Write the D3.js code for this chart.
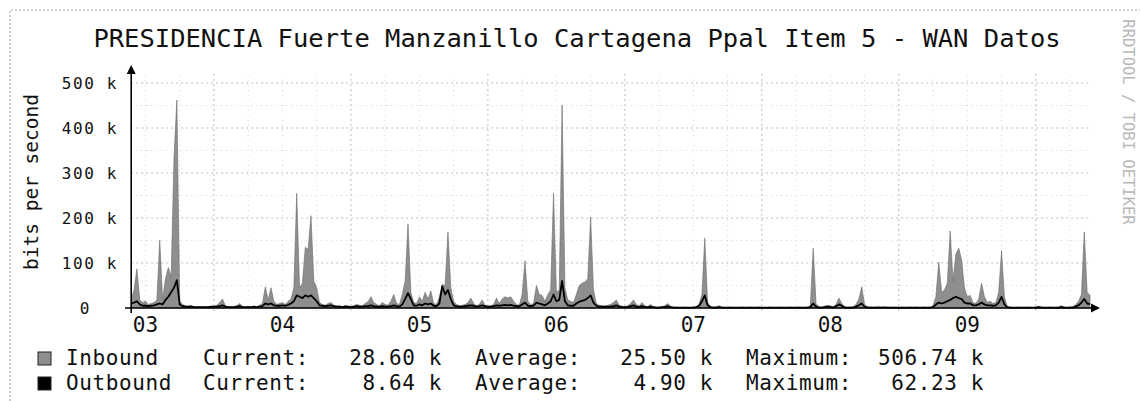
<!DOCTYPE html>
<html>
<head>
<meta charset="utf-8">
<script src="https://cdn.jsdelivr.net/npm/d3@7"></script>
<style>
  html, body { margin: 0; background: #fff; }
  svg { display: block; font-family: "DejaVu Sans Mono", monospace; }
</style>
</head>
<body>
<div id="chart"></div>
<script>
// RRDtool weekly traffic graph, one sample every 30 min starting day 03 09:30
const title = "PRESIDENCIA Fuerte Manzanillo Cartagena Ppal Item 5 - WAN Datos";
const yLabel = "bits per second";
const watermark = "RRDTOOL / TOBI OETIKER";
const dayLabels = ["03", "04", "05", "06", "07", "08", "09"];
const yTicks = [0, 100, 200, 300, 400, 500];   // k bits/s
const startHour = 9.5, stepHours = 0.5;         // hours since day 03 00:00

// inbound, k bits/s (24 samples = 12 h per row)
const inbound = [
  20, 40, 87, 18, 12, 15, 8, 10, 12, 18, 151, 20, 65, 90, 70, 335, 462, 15, 8, 5, 4, 6, 3, 2,
  3, 2, 3, 2, 3, 4, 6, 12, 20, 5, 3, 2, 3, 5, 10, 4, 2, 3, 2, 4, 3, 6, 10, 47,
  18, 45, 15, 8, 10, 12, 8, 15, 20, 45, 255, 45, 55, 135, 130, 205, 60, 45, 12, 8, 6, 10, 12, 6,
  4, 5, 3, 6, 4, 3, 5, 8, 6, 5, 10, 14, 25, 12, 8, 5, 12, 8, 6, 15, 30, 10, 8, 30,
  60, 187, 35, 12, 10, 25, 15, 35, 20, 38, 10, 8, 25, 52, 50, 169, 45, 15, 8, 5, 6, 8, 12, 22,
  10, 5, 8, 18, 6, 4, 5, 8, 22, 10, 20, 25, 22, 25, 15, 8, 6, 30, 105, 15, 8, 10, 50, 30,
  28, 15, 30, 40, 255, 35, 40, 451, 45, 18, 15, 12, 30, 50, 55, 58, 65, 202, 40, 10, 6, 5, 4, 6,
  8, 12, 18, 6, 4, 3, 5, 10, 18, 8, 5, 12, 5, 3, 8, 3, 2, 2, 3, 5, 10, 4, 2, 2,
  1, 1, 2, 1, 1, 2, 3, 8, 30, 155, 12, 3, 2, 3, 5, 2, 1, 1, 2, 1, 1, 1, 2, 1,
  1, 2, 1, 1, 2, 1, 1, 1, 2, 1, 1, 2, 1, 1, 1, 2, 1, 1, 2, 1, 1, 2, 5, 133,
  10, 3, 2, 4, 6, 5, 3, 8, 22, 10, 3, 2, 2, 3, 8, 20, 47, 8, 3, 2, 2, 2, 3, 2,
  3, 2, 1, 2, 1, 1, 2, 1, 1, 2, 1, 2, 1, 1, 2, 1, 2, 5, 25, 102, 35, 40, 55, 171,
  60, 120, 133, 107, 45, 25, 28, 12, 10, 20, 55, 25, 12, 15, 10, 12, 35, 127, 25, 3, 2, 1, 1, 2,
  1, 1, 2, 1, 1, 2, 4, 2, 1, 1, 2, 1, 1, 2, 5, 2, 1, 2, 3, 8, 15, 30, 169, 35,
  28.6
];
// outbound, k bits/s
const outbound = [
  10, 12, 15, 8, 5, 5, 4, 5, 6, 8, 10, 8, 18, 25, 35, 45, 62, 8, 4, 3, 3, 3, 2, 2,
  2, 2, 2, 2, 3, 3, 3, 4, 6, 3, 2, 2, 2, 3, 4, 2, 2, 2, 2, 3, 2, 3, 4, 10,
  8, 10, 6, 5, 5, 6, 5, 7, 10, 15, 28, 25, 22, 28, 25, 28, 22, 15, 6, 5, 4, 5, 6, 4,
  3, 3, 2, 3, 3, 2, 3, 4, 3, 3, 4, 4, 6, 4, 3, 3, 4, 3, 3, 4, 6, 4, 3, 8,
  20, 33, 20, 6, 5, 8, 6, 10, 8, 10, 5, 4, 10, 48, 30, 40, 20, 6, 4, 3, 3, 4, 5, 6,
  5, 3, 4, 6, 4, 3, 3, 4, 6, 5, 6, 7, 6, 7, 5, 4, 4, 8, 12, 5, 4, 5, 12, 10,
  8, 6, 10, 15, 30, 15, 18, 60, 15, 6, 5, 5, 10, 14, 16, 18, 22, 28, 12, 5, 3, 3, 3, 3,
  3, 4, 6, 3, 2, 2, 2, 4, 6, 3, 2, 4, 2, 2, 3, 2, 1, 1, 2, 2, 4, 2, 1, 1,
  1, 1, 1, 1, 1, 1, 2, 5, 15, 28, 6, 2, 1, 1, 2, 1, 1, 1, 1, 1, 1, 1, 1, 1,
  1, 1, 1, 1, 1, 1, 1, 1, 1, 1, 1, 1, 1, 1, 1, 1, 1, 1, 1, 1, 1, 1, 2, 10,
  3, 1, 1, 2, 3, 2, 1, 4, 8, 5, 1, 1, 1, 1, 3, 6, 10, 3, 1, 1, 1, 1, 1, 1,
  1, 1, 1, 1, 1, 1, 1, 1, 1, 1, 1, 1, 1, 1, 1, 1, 1, 2, 8, 12, 10, 12, 15, 18,
  22, 25, 22, 20, 12, 10, 10, 6, 6, 8, 12, 8, 6, 6, 5, 6, 12, 25, 8, 2, 1, 1, 1, 1,
  1, 1, 1, 1, 1, 1, 2, 1, 1, 1, 1, 1, 1, 1, 2, 1, 1, 1, 1, 3, 6, 12, 20, 10,
  8.64
];
const seriesNames = ["Inbound", "Outbound"];
const currentVals = ["28.60 k", "8.64 k"];
const averageVals = ["25.50 k", "4.90 k"];
const maximumVals = ["506.74 k", "62.23 k"];

const W = 1140, H = 401;
const svg = d3.select("#chart").append("svg")
  .attr("width", W).attr("height", H).attr("viewBox", `0 0 ${W} ${H}`);

const x = d3.scaleLinear().domain([startHour, startHour + 168]).range([131.2, 1090]);
const y = d3.scaleLinear().domain([0, 500]).range([308, 83]);
const plotTop = 74;

// scanned-frame dotted border
svg.append("path").attr("d", `M10,${H} V10 H${W}`)
  .attr("fill", "none").attr("stroke", "#aaa").attr("stroke-width", 1.2)
  .attr("stroke-dasharray", "2,2");

svg.append("text").attr("x", 577).attr("y", 47).attr("text-anchor", "middle")
  .attr("font-size", 25.5).attr("fill", "#111").text(title);

// grid
const grid = svg.append("g");
d3.range(50, 501, 50).forEach(v => {
  grid.append("line").attr("x1", x.range()[0]).attr("x2", x.range()[1])
    .attr("y1", y(v)).attr("y2", y(v))
    .attr("stroke", v % 100 ? "#d6d6d6" : "#bdbdbd").attr("stroke-width", 1)
    .attr("stroke-dasharray", v % 100 ? "1,4" : "2,3");
});
d3.range(12, 178, 6).forEach(h => {
  grid.append("line").attr("x1", x(h)).attr("x2", x(h))
    .attr("y1", y(0) + 3).attr("y2", plotTop)
    .attr("stroke", h % 24 ? "#d6d6d6" : "#bdbdbd").attr("stroke-width", 1)
    .attr("stroke-dasharray", h % 24 ? "1,4" : "2,3");
});

// data
const tx = (d, i) => x(startHour + i * stepHours);
svg.append("path").datum(inbound)
  .attr("d", d3.area().x(tx).y0(y(0)).y1(d => y(d)))
  .attr("fill", "#8e8e8e").attr("stroke", "#6a6a6a").attr("stroke-width", 0.6);
svg.append("path").datum(outbound)
  .attr("d", d3.line().x(tx).y(d => y(d)))
  .attr("fill", "none").attr("stroke", "#000").attr("stroke-width", 1.8)
  .attr("stroke-linejoin", "round");

// axes with arrows
const ax = svg.append("g").attr("stroke", "#000").attr("stroke-width", 1.6);
ax.append("line").attr("x1", 125).attr("x2", 1094).attr("y1", y(0)).attr("y2", y(0));
ax.append("line").attr("x1", x.range()[0]).attr("x2", x.range()[0]).attr("y1", y(0) + 5).attr("y2", 70);
svg.append("path").attr("d", `M1100,${y(0)} l-9,-4.5 v9 z`).attr("fill", "#000");
svg.append("path").attr("d", `M${x.range()[0]},65 l-4.5,9 h9 z`).attr("fill", "#000");

// tick labels
svg.append("g").selectAll("text").data(yTicks).join("text")
  .attr("x", d => d ? 118 : 91).attr("y", d => y(d) + 6)
  .attr("text-anchor", "end").attr("font-size", 16).attr("letter-spacing", 1.6)
  .attr("fill", "#111").text(d => d ? `${d} k` : "0");
svg.append("g").selectAll("text").data(dayLabels).join("text")
  .attr("x", (d, i) => x(12 + 24 * i)).attr("y", 332)
  .attr("text-anchor", "middle").attr("font-size", 21).attr("fill", "#111").text(d => d);

svg.append("text").attr("transform", "translate(38,182) rotate(-90)")
  .attr("text-anchor", "middle").attr("font-size", 19.5).attr("fill", "#111").text(yLabel);

svg.append("text").attr("transform", "translate(1123,122) rotate(90)")
  .attr("text-anchor", "middle").attr("font-size", 15.5).attr("fill", "#b8b8b8").text(watermark);

// legend
const leg = svg.append("g").attr("font-size", 21).attr("letter-spacing", 0.6).attr("fill", "#111");
seriesNames.forEach((name, i) => {
  const by = 365 + 25 * i;
  leg.append("rect").attr("x", 38).attr("y", by - 13).attr("width", 13).attr("height", 13)
    .attr("fill", i ? "#000" : "#8e8e8e").attr("stroke", "#222").attr("stroke-width", 1);
  leg.append("text").attr("x", 66).attr("y", by).text(name);
  leg.append("text").attr("x", 203).attr("y", by).text("Current:");
  leg.append("text").attr("x", 442).attr("y", by).attr("text-anchor", "end").text(currentVals[i]);
  leg.append("text").attr("x", 475).attr("y", by).text("Average:");
  leg.append("text").attr("x", 713).attr("y", by).attr("text-anchor", "end").text(averageVals[i]);
  leg.append("text").attr("x", 746).attr("y", by).text("Maximum:");
  leg.append("text").attr("x", 984).attr("y", by).attr("text-anchor", "end").text(maximumVals[i]);
});
</script>
</body>
</html>
